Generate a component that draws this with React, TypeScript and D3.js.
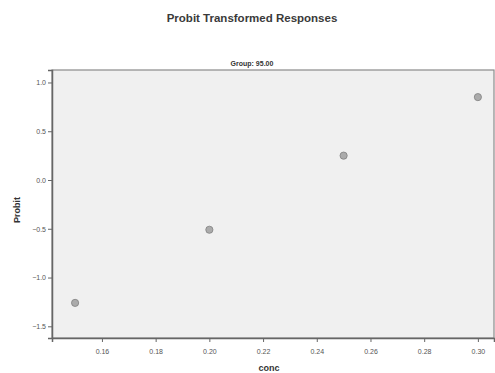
import React, { useEffect, useRef } from 'react';
import * as d3 from 'd3';

// data
const conc = [0.15, 0.2, 0.25, 0.3];
const probit = [-1.26, -0.51, 0.25, 0.85];
const xTicks = [0.16, 0.18, 0.2, 0.22, 0.24, 0.26, 0.28, 0.3];
const yTicks = [1.0, 0.5, 0.0, -0.5, -1.0, -1.5];

const title = 'Probit Transformed Responses';
const panelTitle = 'Group: 95.00';

export default function App() {
  const ref = useRef<SVGSVGElement>(null);

  useEffect(() => {
    const svg = d3.select(ref.current);
    svg.selectAll('*').remove();

    const width = 495;
    const height = 373;
    // plot frame
    const margin = { top: 70, right: 1, bottom: 35, left: 52 };
    const x0 = margin.left;
    const x1 = width - margin.right;
    const y0 = margin.top;
    const y1 = height - margin.bottom;

    const x = d3.scaleLinear().domain([0.1414, 0.306]).range([x0, x1]);
    const y = d3.scaleLinear().domain([-1.62, 1.128]).range([y1, y0]);

    svg.append('rect').attr('width', width).attr('height', height).attr('fill', '#fff');

    // title
    svg.append('text')
      .attr('x', 252).attr('y', 22)
      .attr('text-anchor', 'middle')
      .attr('font-family', 'Liberation Sans, Arial, sans-serif')
      .attr('font-weight', 'bold')
      .attr('font-size', 11.5)
      .attr('fill', '#3a3a3a')
      .text(title);

    svg.append('text')
      .attr('x', 252).attr('y', 66)
      .attr('text-anchor', 'middle')
      .attr('font-family', 'Liberation Sans, Arial, sans-serif')
      .attr('font-weight', 'bold')
      .attr('font-size', 7)
      .attr('fill', '#333')
      .text(panelTitle);

    // background
    svg.append('rect')
      .attr('x', x0).attr('y', y0)
      .attr('width', x1 - x0).attr('height', y1 - y0)
      .attr('fill', '#f0f0f0')
      .attr('stroke', '#8a8a8a')
      .attr('stroke-width', 1.2);

    // axes
    const xAxis = d3.axisBottom(x)
      .tickValues(xTicks)
      .tickSize(4)
      .tickFormat(d3.format('.2f'));
    const gx = svg.append('g')
      .attr('transform', `translate(0,${y1})`)
      .call(xAxis);

    const yAxis = d3.axisLeft(y)
      .tickValues(yTicks)
      .tickSize(4)
      .tickFormat(d3.format('.1f'));
    const gy = svg.append('g')
      .attr('transform', `translate(${x0},0)`)
      .call(yAxis);

    [gx, gy].forEach(g => {
      g.select('.domain').attr('stroke', '#666').attr('stroke-width', 1.5);
      g.selectAll('.tick line').attr('stroke', '#666');
      g.selectAll('.tick text')
        .attr('font-family', 'Liberation Sans, Arial, sans-serif')
        .attr('font-size', 7)
        .attr('fill', '#555');
    });
    gx.selectAll('.tick text').attr('dy', '1.3em');
    gy.selectAll('.tick text').attr('x', -6);

    // axis titles
    svg.append('text')
      .attr('transform', `translate(20,${(y0 + y1) / 2 + 6}) rotate(-90)`)
      .attr('text-anchor', 'middle')
      .attr('font-family', 'Liberation Sans, Arial, sans-serif')
      .attr('font-weight', 'bold')
      .attr('font-size', 9)
      .attr('fill', '#333')
      .text('Probit');

    svg.append('text')
      .attr('x', 269).attr('y', 371)
      .attr('text-anchor', 'middle')
      .attr('font-family', 'Liberation Sans, Arial, sans-serif')
      .attr('font-weight', 'bold')
      .attr('font-size', 9)
      .attr('fill', '#333')
      .text('conc');

    // points
    svg.append('g')
      .selectAll('circle')
      .data(conc)
      .enter()
      .append('circle')
      .attr('cx', d => x(d))
      .attr('cy', (d, i) => y(probit[i]))
      .attr('r', 3.6)
      .attr('fill', '#ababab')
      .attr('stroke', '#808080')
      .attr('stroke-width', 0.8);
  }, []);

  return (
    <svg
      ref={ref}
      width={495}
      height={373}
      style={{ position: 'absolute', left: 0, top: 0 }}
    />
  );
}
